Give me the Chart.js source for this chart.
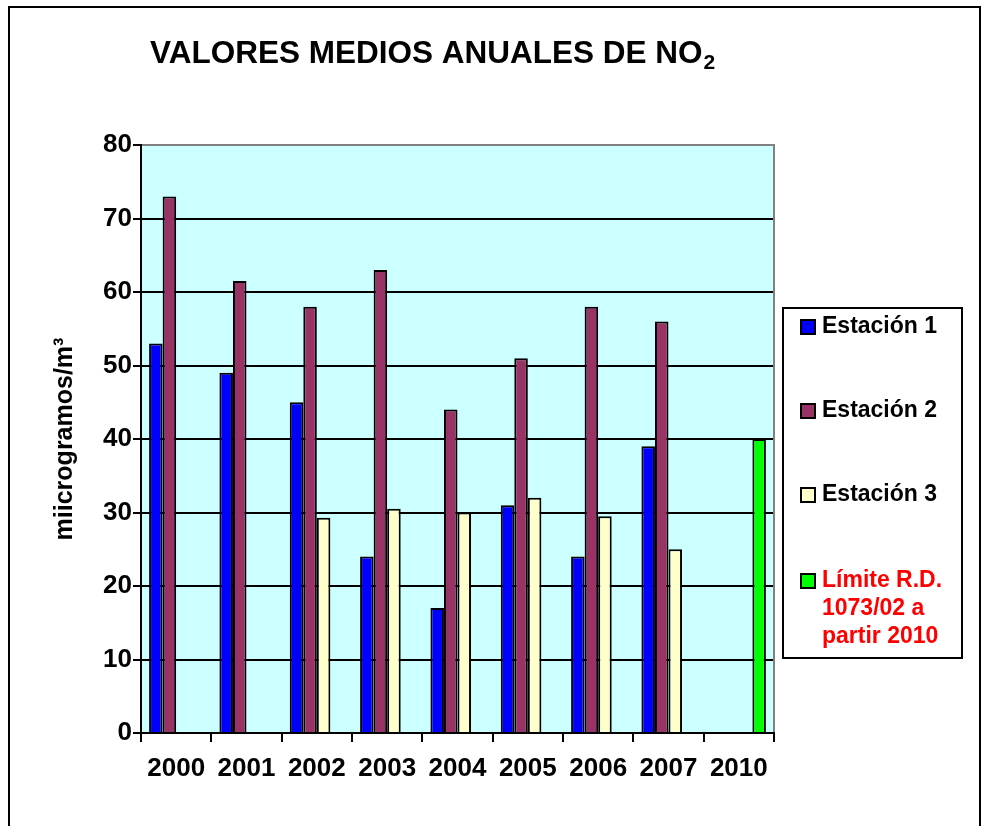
<!DOCTYPE html>
<html>
<head>
<meta charset="utf-8">
<script src="https://cdn.jsdelivr.net/npm/chart.js@4/dist/chart.umd.min.js"></script>
<style>
  html, body { margin: 0; padding: 0; background: #fff; overflow: hidden; }
  #wrap { width: 984px; height: 826px; position: relative; }
</style>
</head>
<body>
<div id="wrap"><canvas id="chart" width="984" height="826"></canvas></div>
<script>
// Data
const years = ['2000', '2001', '2002', '2003', '2004', '2005', '2006', '2007', '2010'];
const estacion1 = [53, 49, 45, 24, 17, 31, 24, 39, null];
const estacion2 = [73, 61.5, 58, 63, 44, 51, 58, 56, null];
const estacion3 = [null, null, 29.3, 30.5, 30, 32, 29.5, 25, null];
const limite = [null, null, null, null, null, null, null, null, 40];
const seriesLabels = ['Estación 1', 'Estación 2', 'Estación 3', ['Límite R.D.', '1073/02 a', 'partir 2010']];
const seriesColors = ['#0000FF', '#993366', '#FFFFCC', '#00FF00'];
const yMin = 0, yMax = 80, yStep = 10;

const FONT = '"Liberation Sans", Arial, sans-serif';

// background of plot area, outer frame, title and legend
const decorPlugin = {
    id: 'decor',
    beforeDraw(chart) {
        const ctx = chart.ctx;
        const a = chart.chartArea;
        ctx.save();
        ctx.fillStyle = '#fff';
        ctx.fillRect(0, 0, chart.width, chart.height);
        ctx.fillStyle = '#CCFFFF';
        ctx.fillRect(a.left, a.top, a.right - a.left, a.bottom - a.top);
        ctx.restore();
    },
    afterDraw(chart) {
        const ctx = chart.ctx;
        const a = chart.chartArea;
        ctx.save();

        // gray frame on top and right of plot
        ctx.strokeStyle = '#808080';
        ctx.lineWidth = 2;
        ctx.beginPath();
        ctx.moveTo(a.left + 1, a.top);
        ctx.lineTo(a.right, a.top);
        ctx.lineTo(a.right, a.bottom - 1);
        ctx.stroke();

        // outer frame
        ctx.strokeStyle = '#000';
        ctx.lineWidth = 2;
        ctx.strokeRect(9, 7, 971, 840);

        // title with subscript
        ctx.fillStyle = '#000';
        ctx.textBaseline = 'alphabetic';
        ctx.textAlign = 'left';
        ctx.font = 'bold 31.5px ' + FONT;
        const main = 'VALORES MEDIOS ANUALES DE NO';
        ctx.fillText(main, 150, 63);
        const w = ctx.measureText(main).width;
        ctx.font = 'bold 21px ' + FONT;
        ctx.fillText('2', 150 + w + 1, 69);

        // legend
        const lx = 783, ly = 308, lw = 179, lh = 350;
        ctx.fillStyle = '#fff';
        ctx.fillRect(lx, ly, lw, lh);
        ctx.strokeStyle = '#000';
        ctx.lineWidth = 2;
        ctx.strokeRect(lx, ly, lw, lh);
        const rows = [327, 411, 495, 581];
        ctx.font = 'bold 23px ' + FONT;
        ctx.textBaseline = 'middle';
        chart.data.datasets.forEach((ds, i) => {
            const y = rows[i];
            ctx.fillStyle = ds.backgroundColor;
            ctx.fillRect(801, y - 7, 14, 14);
            ctx.strokeStyle = '#000';
            ctx.lineWidth = 2;
            ctx.strokeRect(801, y - 7, 14, 14);
            ctx.fillStyle = i === 3 ? '#FF0000' : '#000';
            const lines = Array.isArray(ds.label) ? ds.label : [ds.label];
            lines.forEach((t, k) => ctx.fillText(t, 822, y + k * 28));
        });
        ctx.restore();
    }
};

function makeDataset(label, data, color) {
    return {
        label: label,
        data: data,
        backgroundColor: color,
        borderColor: '#000',
        borderWidth: 2,
        borderSkipped: 'bottom',
        categoryPercentage: 0.77,
        barPercentage: 1.0
    };
}

const ctx = document.getElementById('chart').getContext('2d');
new Chart(ctx, {
    type: 'bar',
    data: {
        labels: years,
        datasets: [
            makeDataset(seriesLabels[0], estacion1, seriesColors[0]),
            makeDataset(seriesLabels[1], estacion2, seriesColors[1]),
            makeDataset(seriesLabels[2], estacion3, seriesColors[2]),
            makeDataset(seriesLabels[3], limite, seriesColors[3])
        ]
    },
    options: {
        responsive: false,
        animation: false,
        layout: { padding: { left: 50, right: 210, top: 145, bottom: 0 } },
        plugins: {
            legend: { display: false },
            title: { display: false },
            tooltip: { enabled: false }
        },
        scales: {
            x: {
                offset: true,
                grid: {
                    offset: true,
                    drawOnChartArea: false,
                    drawTicks: true,
                    tickLength: 9,
                    color: '#000',
                    lineWidth: 2
                },
                border: { display: true, color: '#000', width: 2 },
                ticks: {
                    color: '#000',
                    font: { family: FONT, size: 26, weight: 'bold' },
                    padding: 11,
                    maxRotation: 0,
                    autoSkip: false
                },
                afterFit(scale) { scale.height = 93; }
            },
            y: {
                min: yMin,
                max: yMax,
                ticks: {
                    stepSize: yStep,
                    color: '#000',
                    font: { family: FONT, size: 26, weight: 'bold' },
                    padding: 1
                },
                grid: {
                    color: '#000',
                    lineWidth: 2,
                    tickLength: 8,
                    drawTicks: true
                },
                border: { display: true, color: '#000', width: 2 },
                title: {
                    display: true,
                    text: 'miicrogramos/m³',
                    color: '#000',
                    font: { family: FONT, size: 25, weight: 'bold' },
                    padding: 0
                },
                afterFit(scale) { scale.width = 91; }
            }
        }
    },
    plugins: [decorPlugin]
});
</script>
</body>
</html>
